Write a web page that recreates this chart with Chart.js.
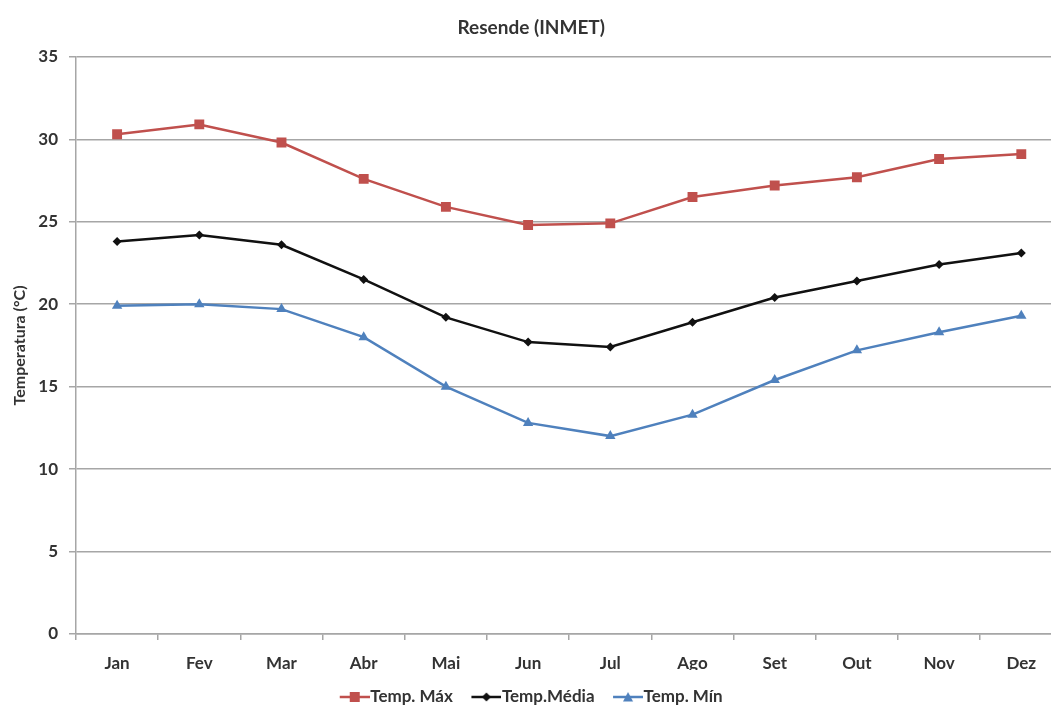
<!DOCTYPE html>
<html lang="pt">
<head>
  <meta charset="UTF-8" />
  <title>Resende (INMET)</title>
  <script src="https://cdn.jsdelivr.net/npm/chart.js"></script>
  <style>
    html, body { margin: 0; padding: 0; background: #fff; overflow: hidden; }
    #wrap { position: relative; width: 1070px; height: 707px; }
  </style>
</head>
<body>
  <div id="wrap"><canvas id="tempChart"></canvas></div>

  <script>
    // monthly normals, Resende station (INMET)
    const months = ['Jan', 'Fev', 'Mar', 'Abr', 'Mai', 'Jun', 'Jul', 'Ago', 'Set', 'Out', 'Nov', 'Dez'];
    const tempMax = [30.3, 30.9, 29.8, 27.6, 25.9, 24.8, 24.9, 26.5, 27.2, 27.7, 28.8, 29.1];
    const tempMed = [23.8, 24.2, 23.6, 21.5, 19.2, 17.7, 17.4, 18.9, 20.4, 21.4, 22.4, 23.1];
    const tempMin = [19.9, 20.0, 19.7, 18.0, 15.0, 12.8, 12.0, 13.3, 15.4, 17.2, 18.3, 19.3];
    const yTicks = [0, 5, 10, 15, 20, 25, 30, 35];

    const RED = '#C0504D', BLACK = '#111111', BLUE = '#4F81BD';
    const FONT = 'Lato, "Liberation Sans", sans-serif';
    const TEXT = '#333333';
    const GRID = '#a6a6a6';

    // "line with marker" swatch for the legend; the 8px blank margin on the
    // left lets the line start right at the item edge
    function legendSwatch(color, shape) {
      const c = document.createElement('canvas');
      c.width = 38; c.height = 12;
      const g = c.getContext('2d');
      g.strokeStyle = color; g.fillStyle = color; g.lineWidth = 2.5;
      g.beginPath(); g.moveTo(8, 6); g.lineTo(38, 6); g.stroke();
      g.beginPath();
      if (shape === 'rect') g.rect(18, 1, 10, 10);
      else if (shape === 'rectRot') { g.moveTo(23, 1.5); g.lineTo(27.5, 6); g.lineTo(23, 10.5); g.lineTo(18.5, 6); g.closePath(); }
      else { g.moveTo(23, 1); g.lineTo(28, 10.5); g.lineTo(18, 10.5); g.closePath(); }
      g.fill();
      return c;
    }

    const series = [
      { label: 'Temp. Máx', data: tempMax, color: RED, shape: 'rect', radius: 7 },
      { label: 'Temp.Média', data: tempMed, color: BLACK, shape: 'rectRot', radius: 4.5 },
      { label: 'Temp. Mín', data: tempMin, color: BLUE, shape: 'triangle', radius: 6 }
    ];

    new Chart(document.getElementById('tempChart'), {
      type: 'line',
      data: {
        labels: months,
        datasets: series.map(s => ({
          label: s.label,
          data: s.data,
          borderColor: s.color,
          backgroundColor: s.color,
          borderWidth: 2.5,
          pointStyle: s.shape,
          pointRadius: s.radius,
          pointBorderWidth: 0,
          pointBackgroundColor: s.color,
          tension: 0,
          swatch: legendSwatch(s.color, s.shape)
        }))
      },
      options: {
        responsive: true,
        maintainAspectRatio: false,
        animation: false,
        layout: { padding: { left: 0, right: 7.6, top: 0, bottom: 0 } },
        plugins: {
          title: {
            display: true,
            text: 'Resende (INMET)',
            color: TEXT,
            font: { family: FONT, size: 19, weight: 'bold' },
            padding: { top: 16, bottom: 18 }
          },
          legend: {
            position: 'bottom',
            maxHeight: 37,
            labels: {
              usePointStyle: true,
              pointStyleWidth: 22,
              padding: 18.5,
              color: TEXT,
              font: { family: FONT, size: 17, weight: 'bold' },
              generateLabels: chart => chart.data.datasets.map((ds, i) => ({
                text: ds.label,
                pointStyle: ds.swatch,
                fillStyle: ds.borderColor,
                strokeStyle: ds.borderColor,
                lineWidth: 0,
                fontColor: TEXT,
                datasetIndex: i
              }))
            }
          },
          tooltip: { enabled: false }
        },
        scales: {
          x: {
            offset: true,
            afterFit: s => { s.height = 36; },
            grid: { display: true, drawOnChartArea: false, drawTicks: true, offset: true, tickLength: 6, color: GRID, lineWidth: 1.5 },
            border: { color: GRID, width: 1.5 },
            ticks: { color: TEXT, padding: 13, maxRotation: 0, font: { family: FONT, size: 17, weight: 'bold' } }
          },
          y: {
            min: 0,
            max: 35,
            afterFit: s => { s.width = 76; },
            afterBuildTicks: s => { s.ticks = yTicks.map(v => ({ value: v })); },
            title: {
              display: true,
              text: 'Temperatura (°C)',
              color: TEXT,
              font: { family: FONT, size: 16, weight: 'bold' },
              padding: { top: 10, bottom: 0 }
            },
            grid: { color: GRID, lineWidth: 1.5, tickLength: 7 },
            border: { color: GRID, width: 1.5 },
            ticks: { color: TEXT, padding: 11, font: { family: FONT, size: 17, weight: 'bold' } }
          }
        }
      }
    });
  </script>
</body>
</html>
